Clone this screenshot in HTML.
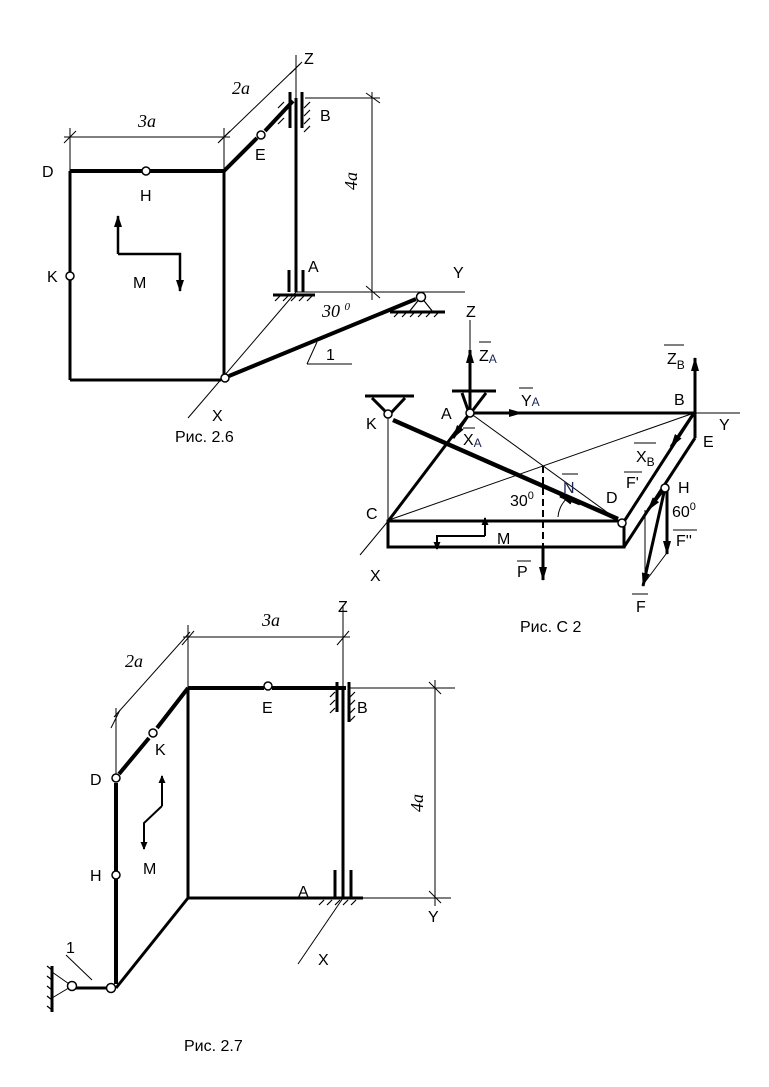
<!DOCTYPE html>
<html><head><meta charset="utf-8"><style>
html,body{margin:0;padding:0;background:#fff;}
svg{display:block;}
text{font-family:"Liberation Sans",sans-serif;font-size:16px;fill:#000;}
.it{font-family:"Liberation Serif",serif;font-style:italic;font-size:18px;}
.b{fill:#1a2450;}
</style></head><body>
<svg width="769" height="1087" viewBox="0 0 769 1087" xmlns="http://www.w3.org/2000/svg">
<defs>
<marker id="ar" markerWidth="8" markerHeight="7" refX="7" refY="3.5" orient="auto" markerUnits="userSpaceOnUse"><path d="M0,0 L8,3.5 L0,7 Z" fill="#000"/></marker>
<marker id="ar2" markerWidth="14" markerHeight="8" refX="13" refY="4" orient="auto" markerUnits="userSpaceOnUse"><path d="M0,0 L14,4 L0,8 Z" fill="#000"/></marker>
<marker id="ar3" markerWidth="12" markerHeight="8" refX="11" refY="4" orient="auto" markerUnits="userSpaceOnUse"><path d="M0,0 L12,4 L0,8 Z" fill="#000"/></marker>
</defs>
<g stroke="#000" fill="none">
<!-- ===== Fig 2.6 ===== -->
<g stroke-width="1">
<line x1="70" y1="171" x2="70" y2="128"/><line x1="224" y1="171" x2="224" y2="128"/>
<line x1="64" y1="137" x2="230" y2="137"/>
<line x1="64" y1="143" x2="76" y2="131"/><line x1="218" y1="143" x2="230" y2="131"/>
<line x1="219" y1="142" x2="300" y2="64"/>
<line x1="290" y1="74" x2="302" y2="62"/>
<line x1="296" y1="55" x2="296" y2="100"/>
<line x1="305" y1="98" x2="380" y2="98"/>
<line x1="372" y1="92" x2="372" y2="300"/>
<line x1="366" y1="93" x2="380" y2="103"/><line x1="366" y1="286" x2="380" y2="298"/>
<line x1="296" y1="292" x2="465" y2="292"/>
<line x1="296" y1="292" x2="188" y2="418"/>
<line x1="307" y1="364" x2="317" y2="342"/><line x1="307" y1="364" x2="352" y2="364"/>
</g>
<g stroke-width="4">
<line x1="70" y1="171" x2="142" y2="171"/><line x1="150" y1="171" x2="224" y2="171"/>
<line x1="224" y1="171" x2="257" y2="138"/><line x1="265" y1="131" x2="293" y2="101"/>
<line x1="229" y1="376" x2="416" y2="299"/>
</g>
<g stroke-width="3">
<line x1="70" y1="171" x2="70" y2="272"/><line x1="70" y1="280" x2="70" y2="380"/>
<line x1="70" y1="380" x2="221" y2="380"/>
<line x1="224" y1="171" x2="224" y2="374"/>
<line x1="296" y1="98" x2="296" y2="292"/>
<line x1="290" y1="92" x2="290" y2="128"/><line x1="302" y1="92" x2="302" y2="128"/>
<line x1="289" y1="270" x2="289" y2="292"/><line x1="303" y1="270" x2="303" y2="292"/>
<line x1="273" y1="295" x2="315" y2="295"/>
<line x1="390" y1="312" x2="445" y2="312"/>
</g>
<g stroke-width="1.2">
<path d="M421,297 L409,312 M421,297 L433,312"/>
<path d="M284,102 l-6,6 M284,110 l-6,6 M284,118 l-6,6 M310,102 l-6,6 M310,110 l-6,6 M310,118 l-6,6 M310,126 l-6,6"/>
<path d="M280,296 l-5,5 M288,296 l-5,5 M296,296 l-5,5 M304,296 l-5,5 M312,296 l-5,5"/>
<path d="M398,313 l-4,4 M406,313 l-4,4 M414,313 l-4,4 M422,313 l-4,4 M430,313 l-4,4 M438,313 l-4,4"/>
</g>
<polyline points="118,254 118,216" stroke-width="2.5" marker-end="url(#ar3)"/>
<polyline points="118,254 180,254 180,291" stroke-width="2.5" marker-end="url(#ar3)"/>
<g stroke-width="1.5" fill="#fff">
<circle cx="146" cy="171" r="4"/><circle cx="261" cy="135" r="4"/><circle cx="70" cy="276" r="4"/>
<circle cx="225" cy="378" r="4"/><circle cx="421" cy="297" r="4.5"/>
</g>

<!-- ===== Fig C2 ===== -->
<g stroke-width="1">
<line x1="470" y1="320" x2="470" y2="413"/>
<line x1="694" y1="413" x2="740" y2="413"/>
<line x1="388" y1="414" x2="388" y2="520"/>
<line x1="470" y1="413" x2="622" y2="523"/>
<line x1="389" y1="520" x2="694" y2="413"/>
<line x1="389" y1="520" x2="360" y2="555"/>
<line x1="645" y1="510" x2="645" y2="580"/>
<line x1="666" y1="554" x2="645" y2="582"/>
<path d="M558,517 A 28 28 0 0 1 570,496"/>
<line x1="543" y1="466" x2="543" y2="560" stroke-dasharray="7,4" stroke-width="2"/>
</g>
<g stroke-width="3">
<line x1="470" y1="413" x2="694" y2="413"/>
<line x1="470" y1="413" x2="389" y2="520"/>
<line x1="694" y1="413" x2="625" y2="520"/>
<rect x="388" y="521" width="236" height="26"/>
<line x1="624" y1="547" x2="695" y2="438"/>
<line x1="695" y1="413" x2="695" y2="438"/>
<line x1="365" y1="396" x2="414" y2="396"/>
<line x1="452" y1="391" x2="496" y2="391"/>
<path d="M372,398 L388,414 M405,398 L390,414"/>
<path d="M462,393 L468,410 M486,393 L473,410"/>
</g>
<line x1="393" y1="420" x2="618" y2="519" stroke-width="4.5"/>
<g stroke-width="3">
<line x1="470" y1="413" x2="470" y2="350" marker-end="url(#ar2)"/>
<line x1="470" y1="413" x2="522" y2="413" marker-end="url(#ar2)"/>
<line x1="470" y1="413" x2="453" y2="438" marker-end="url(#ar2)"/>
<line x1="695" y1="413" x2="695" y2="358" marker-end="url(#ar2)"/>
<line x1="694" y1="413" x2="671" y2="447" marker-end="url(#ar2)"/>
<line x1="543" y1="547" x2="543" y2="580" marker-end="url(#ar2)"/>
<line x1="580" y1="504" x2="560" y2="496" marker-end="url(#ar2)"/>
<line x1="665" y1="488" x2="643" y2="586" marker-end="url(#ar2)"/>
<line x1="667" y1="488" x2="667" y2="554" marker-end="url(#ar2)"/>
<line x1="665" y1="488" x2="648" y2="510" marker-end="url(#ar2)"/>
</g>
<polyline points="485,536 485,518" stroke-width="2" marker-end="url(#ar)"/>
<polyline points="485,536 437,536 437,549" stroke-width="2" marker-end="url(#ar)"/>
<g stroke-width="1.5" fill="#fff">
<circle cx="470" cy="413" r="4"/><circle cx="388" cy="414" r="4"/><circle cx="622" cy="523" r="4"/><circle cx="665" cy="488" r="4"/>
</g>

<!-- ===== Fig 2.7 ===== -->
<g stroke-width="1">
<line x1="188" y1="688" x2="188" y2="625"/><line x1="343" y1="605" x2="343" y2="688"/>
<line x1="183" y1="637" x2="350" y2="637"/>
<line x1="182" y1="645" x2="194" y2="631"/><line x1="337" y1="645" x2="349" y2="631"/>
<line x1="116" y1="778" x2="116" y2="708"/>
<line x1="114" y1="717" x2="190" y2="632"/>
<line x1="111" y1="728" x2="120" y2="710"/>
<line x1="350" y1="688" x2="455" y2="688"/>
<line x1="435" y1="680" x2="435" y2="906"/>
<line x1="429" y1="682" x2="441" y2="694"/><line x1="429" y1="891" x2="441" y2="903"/>
<line x1="363" y1="898" x2="451" y2="898"/>
<line x1="343" y1="898" x2="298" y2="964"/>
<line x1="66" y1="955" x2="92" y2="980"/>
<path d="M72,986 L52,972 M72,986 L52,998"/>
</g>
<g stroke-width="4">
<line x1="188" y1="688" x2="264" y2="688"/><line x1="272" y1="688" x2="346" y2="688"/>
<line x1="188" y1="688" x2="157" y2="728"/><line x1="149" y1="738" x2="119" y2="774"/>
<line x1="116" y1="783" x2="116" y2="871"/><line x1="116" y1="879" x2="116" y2="984"/>
</g>
<g stroke-width="3">
<line x1="343" y1="688" x2="343" y2="898"/>
<line x1="188" y1="688" x2="188" y2="898"/>
<line x1="188" y1="898" x2="363" y2="898"/>
<line x1="116" y1="988" x2="188" y2="898"/>
<line x1="76" y1="988" x2="108" y2="988"/>
<line x1="337" y1="682" x2="337" y2="712"/><line x1="349" y1="682" x2="349" y2="722"/>
<line x1="335" y1="870" x2="335" y2="898"/><line x1="351" y1="870" x2="351" y2="898"/>
<line x1="52" y1="966" x2="52" y2="1012"/>
</g>
<g stroke-width="1.2">
<path d="M335,692 l-5,5 M335,700 l-5,5 M335,708 l-5,5 M355,692 l-5,5 M355,700 l-5,5 M355,708 l-5,5 M355,716 l-5,5"/>
<path d="M324,900 l-5,5 M332,900 l-5,5 M340,900 l-5,5 M348,900 l-5,5 M356,900 l-5,5"/>
<path d="M52,970 l-5,-4 M52,980 l-5,-4 M52,990 l-5,-4 M52,1000 l-5,-4 M52,1010 l-5,-4"/>
</g>
<polyline points="162,806 162,776" stroke-width="2" marker-end="url(#ar)"/>
<polyline points="162,806 144,823 144,849" stroke-width="2" marker-end="url(#ar)"/>
<g stroke-width="1.5" fill="#fff">
<circle cx="268" cy="686" r="4"/><circle cx="153" cy="733" r="4"/><circle cx="116" cy="778" r="4"/>
<circle cx="116" cy="875" r="4"/><circle cx="111" cy="988" r="4.5"/><circle cx="72" cy="986" r="4.5"/>
</g>
</g>

<!-- Fig 2.6 labels -->
<text class="it" x="138" y="127">3a</text>
<text class="it" x="232" y="94">2a</text>
<text x="304" y="64">Z</text>
<text x="320" y="121">B</text>
<text x="42" y="177">D</text>
<text x="140" y="201">H</text>
<text x="255" y="160">E</text>
<text x="47" y="282">K</text>
<text x="133" y="288">M</text>
<text x="308" y="272">A</text>
<text x="453" y="278">Y</text>
<text class="it" x="322" y="317">30 <tspan font-size="11" dy="-7">0</tspan></text>
<text x="326" y="360">1</text>
<text x="212" y="421">X</text>
<text class="it" transform="translate(357,190) rotate(-90)">4a</text>
<text x="175" y="442">Рис. 2.6</text>

<!-- Fig C2 labels -->
<text x="466" y="317">Z</text>
<text x="479" y="361">Z<tspan font-size="12" class="b" dy="2">A</tspan></text>
<line x1="479" y1="342" x2="491" y2="342" stroke="#000"/>
<text x="521" y="406">Y<tspan font-size="12" class="b" dy="0">A</tspan></text>
<line x1="519" y1="388" x2="533" y2="388" stroke="#000"/>
<text x="463" y="445">X<tspan font-size="12" class="b" dy="2">A</tspan></text>
<line x1="463" y1="428" x2="475" y2="428" stroke="#000"/>
<text x="667" y="364">Z<tspan font-size="12" dy="5">B</tspan></text>
<line x1="664" y1="345" x2="684" y2="345" stroke="#000"/>
<text x="674" y="405">B</text>
<text x="719" y="430">Y</text>
<text x="703" y="447">E</text>
<text x="636" y="462">X<tspan font-size="12" dy="4">B</tspan></text>
<line x1="634" y1="443" x2="656" y2="443" stroke="#000"/>
<text x="626" y="488">F'</text>
<line x1="624" y1="472" x2="642" y2="472" stroke="#000"/>
<text x="678" y="493">H</text>
<text x="672" y="517">60<tspan font-size="11" dy="-7">0</tspan></text>
<text x="676" y="546">F''</text>
<line x1="673" y1="530" x2="697" y2="530" stroke="#000"/>
<text x="636" y="612">F</text>
<line x1="632" y1="594" x2="648" y2="594" stroke="#000"/>
<text x="606" y="503">D</text>
<text x="563" y="493" class="b">N</text>
<line x1="562" y1="474" x2="578" y2="474" stroke="#000"/>
<text x="510" y="506">30<tspan font-size="11" dy="-7">0</tspan></text>
<text x="366" y="519">C</text>
<text x="497" y="544">M</text>
<text x="517" y="577">P</text>
<line x1="517" y1="561" x2="531" y2="561" stroke="#000"/>
<text x="370" y="581">X</text>
<text x="366" y="429">K</text>
<text x="441" y="419">A</text>
<text x="520" y="632">Рис. C 2</text>

<!-- Fig 2.7 labels -->
<text class="it" x="262" y="626">3a</text>
<text class="it" x="125" y="667">2a</text>
<text x="338" y="612">Z</text>
<text x="262" y="713">E</text>
<text x="357" y="713">B</text>
<text x="155" y="755">K</text>
<text x="90" y="785">D</text>
<text x="90" y="881">H</text>
<text x="143" y="874">M</text>
<text x="298" y="897">A</text>
<text x="428" y="922">Y</text>
<text x="318" y="965">X</text>
<text x="66" y="953">1</text>
<text class="it" transform="translate(423,812) rotate(-90)">4a</text>
<text x="184" y="1051">Рис. 2.7</text>
</svg>
</body></html>
